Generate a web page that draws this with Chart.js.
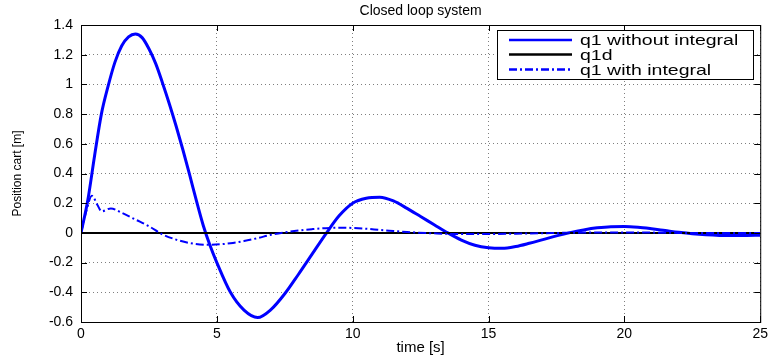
<!DOCTYPE html>
<html>
<head>
<meta charset="utf-8">
<script src="https://cdn.jsdelivr.net/npm/chart.js@4.4.1/dist/chart.umd.min.js"></script>
<style>
  html, body { margin: 0; padding: 0; background: #fff; }
  #wrap { width: 772px; height: 360px; }
</style>
</head>
<body>
<div id="wrap"><canvas id="lineChart"></canvas></div>
<script>
// time axis [s] and cart position [m]
var timeNoInt = [0, 0.25, 0.5, 0.75, 1, 1.25, 1.5, 1.75, 2, 2.25, 2.5, 2.75, 3, 3.25, 3.5, 3.75, 4, 4.25, 4.5, 4.75,
  5, 5.5, 6, 6.5, 7, 7.5, 8, 8.5, 9, 9.5, 10, 10.5, 11, 11.5, 12, 12.5, 13, 13.5, 14, 14.5,
  15, 15.5, 16, 16.5, 17, 17.5, 18, 18.5, 19, 19.5, 20, 20.5, 21, 21.5, 22, 22.5, 23, 23.5, 24, 24.5, 25];
var q1NoInt = [0, 0.22, 0.52, 0.8, 0.99, 1.15, 1.26, 1.32, 1.34, 1.315, 1.24, 1.14, 1.01, 0.87, 0.72, 0.56, 0.39, 0.215, 0.05, -0.085,
  -0.2, -0.4, -0.52, -0.57, -0.515, -0.41, -0.28, -0.145, -0.01, 0.115, 0.2, 0.233, 0.24, 0.215, 0.165, 0.11, 0.055, 0, -0.048, -0.083,
  -0.1, -0.104, -0.092, -0.07, -0.045, -0.02, 0.002, 0.02, 0.034, 0.042, 0.043, 0.038, 0.028, 0.016, 0.004, -0.006, -0.013, -0.017, -0.018, -0.017, -0.015];

var timeRef = [0, 25];
var q1d = [0, 0];

var timeInt = [0, 0.2, 0.4, 0.6, 0.76, 1.1, 1.5, 2, 2.5, 3, 3.5, 4, 4.7, 5.5, 6, 6.5, 7, 7.5, 8, 8.5,
  9, 9.6, 10, 10.5, 11, 11.5, 12, 13, 14, 15, 16, 17, 18, 19, 20, 21, 22, 23, 24, 25];
var q1Int = [0, 0.15, 0.25, 0.19, 0.145, 0.165, 0.135, 0.09, 0.045, -0.01, -0.045, -0.068, -0.08, -0.07, -0.055, -0.035, -0.012, 0.004, 0.016, 0.025,
  0.032, 0.035, 0.033, 0.028, 0.02, 0.013, 0.006, -0.003, -0.008, -0.008, -0.005, -0.002, 0.001, 0.003, 0.003, 0.002, 0, -0.001, -0.001, 0];

var xTicks = [0, 5, 10, 15, 20, 25];
var yTicks = [-0.6, -0.4, -0.2, 0, 0.2, 0.4, 0.6, 0.8, 1, 1.2, 1.4];

var legendItems = [
  { text: 'q1 without integral', color: '#0000ff', width: 2.5, dash: [] },
  { text: 'q1d', color: '#000000', width: 2.5, dash: [] },
  { text: 'q1 with integral', color: '#0000ff', width: 2.5, dash: [8, 3, 2, 3] }
];

function toPoints(xs, ys) {
  return xs.map(function (x, i) { return { x: x, y: ys[i] }; });
}

// white page, matlab style box with inward ticks, boxed legend
var matlabFrame = {
  id: 'matlabFrame',
  beforeDraw: function (chart) {
    var c = chart.ctx;
    c.save();
    c.fillStyle = '#fff';
    c.fillRect(0, 0, chart.width, chart.height);
    c.restore();
  },
  afterDatasetsDraw: function (chart) {
    var c = chart.ctx, a = chart.chartArea;
    var xs = chart.scales.x, ys = chart.scales.y;
    c.save();
    c.strokeStyle = '#000';
    c.lineWidth = 1;
    c.strokeRect(a.left + 0.5, a.top + 0.5, a.right - a.left, a.bottom - a.top);
    c.beginPath();
    xTicks.forEach(function (v) {
      var px = Math.round(xs.getPixelForValue(v)) + 0.5;
      c.moveTo(px, a.bottom); c.lineTo(px, a.bottom - 6);
      c.moveTo(px, a.top); c.lineTo(px, a.top + 6);
    });
    yTicks.forEach(function (v) {
      var py = Math.round(ys.getPixelForValue(v)) + 0.5;
      c.moveTo(a.left, py); c.lineTo(a.left + 6, py);
      c.moveTo(a.right, py); c.lineTo(a.right - 6, py);
    });
    c.stroke();
    c.restore();
  },
  afterDraw: function (chart) {
    var c = chart.ctx;
    var bx = 497, by = 30, bw = 256, bh = 49;
    var rows = [40, 54.5, 69.5];
    c.save();
    c.fillStyle = '#fff';
    c.fillRect(bx, by, bw, bh);
    c.strokeStyle = '#000';
    c.lineWidth = 1;
    c.strokeRect(bx + 0.5, by + 0.5, bw, bh);
    legendItems.forEach(function (it, i) {
      c.beginPath();
      c.strokeStyle = it.color;
      c.lineWidth = it.width;
      c.setLineDash(it.dash);
      c.moveTo(509, rows[i]);
      c.lineTo(572, rows[i]);
      c.stroke();
      c.setLineDash([]);
      c.save();
      c.translate(580, rows[i] + 1);
      c.scale(1.3, 1);
      c.fillStyle = '#000';
      c.font = '15px "Liberation Sans", Arial, sans-serif';
      c.textBaseline = 'middle';
      c.fillText(it.text, 0, 0);
      c.restore();
    });
    c.restore();
  }
};

document.addEventListener('DOMContentLoaded', function () {
  var ctx = document.getElementById('lineChart').getContext('2d');
  var data = {
    datasets: [{
      label: 'q1 without integral',
      data: toPoints(timeNoInt, q1NoInt),
      borderColor: '#0000ff',
      borderWidth: 3,
      order: 3
    }, {
      label: 'q1d',
      data: toPoints(timeRef, q1d),
      borderColor: '#000000',
      borderWidth: 2,
      order: 2
    }, {
      label: 'q1 with integral',
      data: toPoints(timeInt, q1Int),
      borderColor: '#0000ff',
      borderWidth: 2,
      borderDash: [8, 3, 2, 3],
      order: 1
    }]
  };
  new Chart(ctx, {
    type: 'line',
    data: data,
    options: {
      responsive: true,
      maintainAspectRatio: false,
      animation: false,
      parsing: false,
      elements: {
        point: { radius: 0 },
        line: { cubicInterpolationMode: 'monotone', fill: false }
      },
      layout: { padding: { left: 0, right: 10, top: 0, bottom: 0 } },
      plugins: {
        legend: { display: false },
        tooltip: { enabled: false },
        title: {
          display: true,
          text: 'Closed loop system',
          fullSize: false,
          color: '#000',
          font: { family: '"Liberation Sans", Arial, sans-serif', size: 14, weight: 'normal' },
          padding: { top: 3, bottom: 5.2 }
        }
      },
      scales: {
        x: {
          type: 'linear',
          min: 0,
          max: 25,
          afterBuildTicks: function (s) { s.ticks = xTicks.map(function (v) { return { value: v }; }); },
          afterFit: function (s) { s.height = 38; },
          ticks: {
            color: '#000',
            padding: 4,
            maxRotation: 0,
            font: { family: '"Liberation Sans", Arial, sans-serif', size: 14 }
          },
          grid: { color: 'rgba(0,0,0,0.5)', drawTicks: false },
          border: { display: false, dash: [1, 3] },
          title: {
            display: true,
            text: 'time [s]',
            color: '#000',
            font: { family: '"Liberation Sans", Arial, sans-serif', size: 15 },
            padding: { top: 0, bottom: 3 }
          }
        },
        y: {
          min: -0.6,
          max: 1.4,
          afterBuildTicks: function (s) { s.ticks = yTicks.map(function (v) { return { value: v }; }); },
          afterFit: function (s) { s.width = 81; },
          ticks: {
            color: '#000',
            padding: 8,
            font: { family: '"Liberation Sans", Arial, sans-serif', size: 14 },
            callback: function (v) { return Number(v.toFixed(1)).toString(); }
          },
          grid: { color: 'rgba(0,0,0,0.5)', drawTicks: false },
          border: { display: false, dash: [1, 3] },
          title: {
            display: true,
            text: 'Position cart [m]',
            color: '#000',
            font: { family: '"Liberation Sans", Arial, sans-serif', size: 12 },
            padding: { top: 10, bottom: 0 }
          }
        }
      }
    },
    plugins: [matlabFrame]
  });
});
</script>
</body>
</html>
